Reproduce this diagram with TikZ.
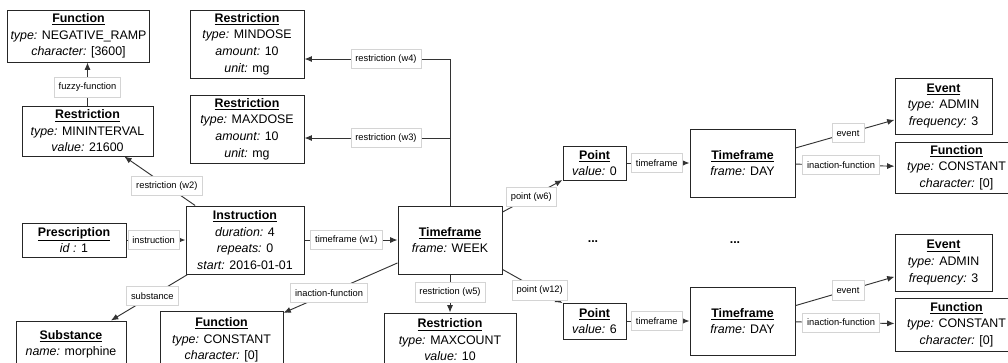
\documentclass[tikz,border=0pt]{standalone}
\usepackage{fontspec}
\setmainfont{Liberation Sans}
\usetikzlibrary{arrows.meta,calc}
\definecolor{wire}{HTML}{333333}
\definecolor{frame}{HTML}{262626}
\definecolor{tagline}{HTML}{D4D4D4}
\newcommand{\boxfont}{\fontsize{9.3}{12.4}\selectfont}
\newcommand{\tagfont}{\fontsize{7}{8.4}\selectfont}
\newcommand{\ent}[2]{\underline{\textbf{#1}}\\#2}
\newcommand{\attr}[2]{\textit{#1:} #2}
\tikzset{
  entity/.style={
    draw=frame,
    line width=0.75pt,
    fill=white,
    align=center,
    font=\boxfont,
    inner sep=0pt
  },
  link/.style={draw=wire, line width=0.7pt, -{Latex[length=5.5pt,width=4.5pt]}},
  tag/.style={
    draw=tagline,
    line width=0.5pt,
    fill=white,
    font=\tagfont,
    inner xsep=3.4pt,
    inner ysep=0pt,
    minimum height=14.5pt
  },
  skipmark/.style={font=\boxfont\bfseries, inner sep=0pt}
}

\begin{document}
\begin{tikzpicture}[x=0.75pt,y=-0.75pt]
\useasboundingbox (0,0) rectangle (1008,362);
\clip (0,0) rectangle (1008,362);

% left column
\node[entity, minimum width=106.5pt, minimum height=39pt] (fnRamp) at (78.5,36)
  {\ent{Function}{\attr{type}{NEGATIVE\_RAMP}\\\attr{character}{[3600]}}};
\node[entity, minimum width=98.25pt, minimum height=37.5pt] (rstInterval) at (87.5,131)
  {\ent{Restriction}{\attr{type}{MININTERVAL}\\\attr{value}{21600}}};
\node[entity, minimum width=78pt, minimum height=25.5pt] (prescription) at (74,240)
  {\ent{Prescription}{\textit{id :} 1}};
\node[entity, minimum width=82.5pt, minimum height=35.25pt] (substance) at (71,344.5)
  {\ent{Substance}{\attr{name}{morphine}}};

% instruction and its restrictions
\node[entity, minimum width=85.5pt, minimum height=51pt] (rstMinDose) at (247,44)
  {\ent{Restriction}{\attr{type}{MINDOSE}\\\attr{amount}{10}\\\attr{unit}{mg}}};
\node[entity, minimum width=85.5pt, minimum height=51pt] (rstMaxDose) at (247,129)
  {\ent{Restriction}{\attr{type}{MAXDOSE}\\\attr{amount}{10}\\\attr{unit}{mg}}};
\node[entity, minimum width=88.5pt, minimum height=51pt] (instruction) at (245,240)
  {\ent{Instruction}{\attr{duration}{4}\\\attr{repeats}{0}\\\attr{start}{2016-01-01}}};
\node[entity, minimum width=92.25pt, minimum height=43.5pt] (fnConstant) at (221.5,340)
  {\ent{Function}{\attr{type}{CONSTANT}\\\attr{character}{[0]}}};

% week
\node[entity, minimum width=78pt, minimum height=51pt] (tfWeek) at (450,240)
  {\ent{Timeframe}{\attr{frame}{WEEK}}};
\node[entity, minimum width=99pt, minimum height=40.5pt] (rstMaxCount) at (450,340)
  {\ent{Restriction}{\attr{type}{MAXCOUNT}\\\attr{value}{10}}};

% days
\node[entity, minimum width=47.25pt, minimum height=25.5pt] (pointA) at (594.5,163)
  {\ent{Point}{\attr{value}{0}}};
\node[entity, minimum width=47.25pt, minimum height=27pt] (pointB) at (594.5,321)
  {\ent{Point}{\attr{value}{6}}};
\node[entity, minimum width=78.75pt, minimum height=51pt] (tfDayA) at (742.5,163)
  {\ent{Timeframe}{\attr{frame}{DAY}}};
\node[entity, minimum width=78.75pt, minimum height=51pt] (tfDayB) at (742.5,321)
  {\ent{Timeframe}{\attr{frame}{DAY}}};
\node[entity, minimum width=72.75pt, minimum height=42pt] (eventA) at (943.5,106)
  {\ent{Event}{\attr{type}{ADMIN}\\\attr{frequency}{3}}};
\node[entity, minimum width=72.75pt, minimum height=42.75pt] (eventB) at (943.5,262.5)
  {\ent{Event}{\attr{type}{ADMIN}\\\attr{frequency}{3}}};
\node[entity, minimum width=92.25pt, minimum height=38.25pt] (fnDayA) at (956.5,167.5)
  {\ent{Function}{\attr{type}{CONSTANT}\\\attr{character}{[0]}}};
\node[entity, minimum width=92.25pt, minimum height=39.75pt] (fnDayB) at (956.5,324.5)
  {\ent{Function}{\attr{type}{CONSTANT}\\\attr{character}{[0]}}};

\node[skipmark] (gapA) at (593,242) {...};
\node[skipmark] (gapB) at (735,243) {...};

% connectors
\draw[link] (rstInterval.north) -- node[tag, pos=0.42] {fuzzy-function} (rstInterval.north |- fnRamp.south);
\draw[link] (instruction) -- node[tag, pos=0.4] {restriction (w2)} (rstInterval);
\draw[link] (prescription) -- node[tag, pos=0.46] {instruction} (instruction);
\draw[link] (instruction) -- node[tag, pos=0.46] {substance} (substance);
\draw[link] (instruction) -- node[tag, pos=0.45] {timeframe (w1)} (tfWeek);
\draw[link] (tfWeek.north) |- node[tag, pos=0.72] {restriction (w4)} ($(rstMinDose.east)+(0,15)$);
\draw[link] (tfWeek.north) |- node[tag, pos=0.72] {restriction (w3)} ($(rstMaxDose.east)+(0,9)$);
\draw[link] (tfWeek) -- node[tag, pos=0.6] {inaction-function} (fnConstant);
\draw[link] (tfWeek.south) -- node[tag, pos=0.47] {restriction (w5)} (rstMaxCount.north);
\draw[link] (tfWeek) -- node[tag, pos=0.48] {point (w6)} (pointA);
\draw[link] (tfWeek) -- node[tag, pos=0.62] {point (w12)} (pointB);

\draw[link] (pointA) -- node[tag, pos=0.48] {timeframe} (tfDayA);
\draw[link] (tfDayA) -- node[tag, pos=0.53] {event} (eventA);
\draw[link] (tfDayA) -- node[tag, pos=0.46] {inaction-function} (fnDayA);
\draw[link] (pointB) -- node[tag, pos=0.48] {timeframe} (tfDayB);
\draw[link] (tfDayB) -- node[tag, pos=0.53] {event} (eventB);
\draw[link] (tfDayB) -- node[tag, pos=0.46] {inaction-function} (fnDayB);
\end{tikzpicture}
\end{document}
